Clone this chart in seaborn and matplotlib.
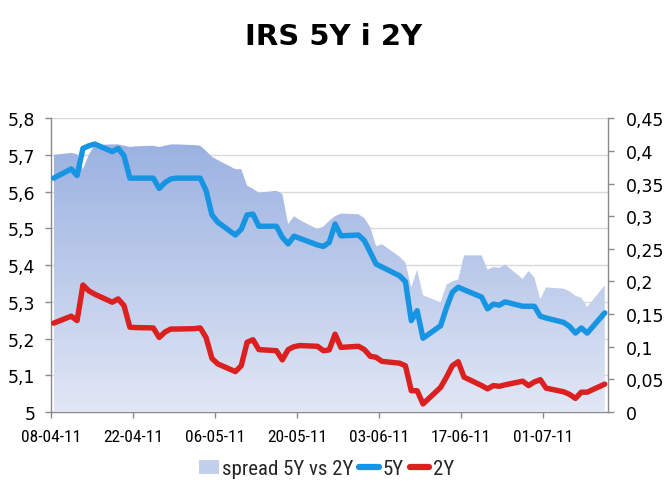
import numpy as np
import pandas as pd
import matplotlib
matplotlib.use("Agg")
import matplotlib.pyplot as plt
import matplotlib.dates as mdates
from matplotlib import font_manager
from matplotlib.colors import LinearSegmentedColormap
from matplotlib.patches import Patch
from matplotlib.lines import Line2D
from matplotlib.ticker import FuncFormatter
import seaborn as sns

# ---------------- data ----------------
title = "IRS 5Y i 2Y"
dates = [
    "2011-04-08", "2011-04-11", "2011-04-12", "2011-04-13", "2011-04-14", "2011-04-15",
    "2011-04-18", "2011-04-19", "2011-04-20", "2011-04-21", "2011-04-22",
    "2011-04-25", "2011-04-26", "2011-04-27", "2011-04-28", "2011-04-29",
    "2011-05-02", "2011-05-03", "2011-05-04", "2011-05-05", "2011-05-06",
    "2011-05-09", "2011-05-10", "2011-05-11", "2011-05-12", "2011-05-13",
    "2011-05-16", "2011-05-17", "2011-05-18", "2011-05-19", "2011-05-20",
    "2011-05-23", "2011-05-24", "2011-05-25", "2011-05-26", "2011-05-27",
    "2011-05-30", "2011-05-31", "2011-06-01", "2011-06-02", "2011-06-03",
    "2011-06-06", "2011-06-07", "2011-06-08", "2011-06-09", "2011-06-10",
    "2011-06-13", "2011-06-14", "2011-06-15", "2011-06-16", "2011-06-17",
    "2011-06-20", "2011-06-21", "2011-06-22", "2011-06-23", "2011-06-24",
    "2011-06-27", "2011-06-28", "2011-06-29", "2011-06-30", "2011-07-01",
    "2011-07-04", "2011-07-05", "2011-07-06", "2011-07-07", "2011-07-08",
    "2011-07-11",
]
irs_5y = [
    5.637, 5.662, 5.644, 5.718, 5.725, 5.730,
    5.709, 5.718, 5.698, 5.637, 5.637,
    5.637, 5.609, 5.625, 5.635, 5.637,
    5.637, 5.637, 5.603, 5.537, 5.517,
    5.482, 5.498, 5.537, 5.539, 5.506,
    5.506, 5.476, 5.458, 5.479, 5.473,
    5.455, 5.451, 5.462, 5.512, 5.480,
    5.482, 5.467, 5.435, 5.403, 5.395,
    5.371, 5.355, 5.249, 5.276, 5.201,
    5.235, 5.284, 5.326, 5.340, 5.333,
    5.313, 5.281, 5.294, 5.291, 5.300,
    5.288, 5.288, 5.288, 5.261, 5.256,
    5.244, 5.233, 5.215, 5.229, 5.215,
    5.270,
]
irs_2y = [
    5.242, 5.261, 5.249, 5.346, 5.330, 5.321,
    5.299, 5.308, 5.290, 5.231, 5.230,
    5.229, 5.203, 5.218, 5.226, 5.226,
    5.227, 5.229, 5.203, 5.146, 5.131,
    5.110, 5.126, 5.190, 5.197, 5.170,
    5.167, 5.142, 5.170, 5.178, 5.181,
    5.179, 5.167, 5.169, 5.212, 5.176,
    5.179, 5.170, 5.152, 5.149, 5.138,
    5.133, 5.126, 5.058, 5.058, 5.022,
    5.067, 5.095, 5.126, 5.137, 5.095,
    5.072, 5.063, 5.072, 5.070, 5.074,
    5.084, 5.072, 5.082, 5.088, 5.065,
    5.055, 5.048, 5.037, 5.054, 5.054,
    5.076,
]
spread = [
    0.394, 0.397, 0.395, 0.372, 0.394, 0.409,
    0.410, 0.410, 0.408, 0.406, 0.407,
    0.408, 0.406, 0.408, 0.410, 0.410,
    0.409, 0.408, 0.400, 0.391, 0.386,
    0.372, 0.372, 0.347, 0.342, 0.336,
    0.339, 0.334, 0.288, 0.300, 0.294,
    0.280, 0.284, 0.293, 0.300, 0.304,
    0.303, 0.297, 0.283, 0.254, 0.257,
    0.238, 0.229, 0.191, 0.218, 0.179,
    0.168, 0.195, 0.200, 0.203, 0.240,
    0.240, 0.218, 0.222, 0.221, 0.226,
    0.204, 0.216, 0.206, 0.173, 0.191,
    0.189, 0.185, 0.178, 0.175, 0.161,
    0.194,
]
x_ticks = ["2011-04-08", "2011-04-22", "2011-05-06", "2011-05-20",
           "2011-06-03", "2011-06-17", "2011-07-01"]
x_range = ["2011-04-08", "2011-07-12"]
left_ticks = [5.0, 5.1, 5.2, 5.3, 5.4, 5.5, 5.6, 5.7, 5.8]
right_ticks = [0, 0.05, 0.1, 0.15, 0.2, 0.25, 0.3, 0.35, 0.4, 0.45]
series_names = ["spread 5Y vs 2Y", "5Y", "2Y"]

# ---------------- style ----------------
sns.set_theme(style="white")
plt.rcParams["font.family"] = ["DejaVu Sans"]


def pick_font(cands):
    for c in cands:
        try:
            font_manager.findfont(font_manager.FontProperties(family=c),
                                  fallback_to_default=False)
            return c
        except Exception:
            continue
    return "DejaVu Sans"


narrow = pick_font(["DejaVu Sans Condensed", "Liberation Sans Narrow", "Roboto Condensed", "DejaVu Sans"])

c5 = "#1795e3"
c2 = "#dc1f1f"
spine_c = "#8a8a8a"

df = pd.DataFrame({
    "date": pd.to_datetime(dates) + pd.Timedelta(hours=12),
    "5Y": irs_5y,
    "2Y": irs_2y,
    "spread": spread,
})

fig = plt.figure(figsize=(6.7, 5.02), dpi=100)
rect = [50.7 / 670, (502 - 413) / 502, (607.7 - 50.7) / 670, (413 - 119.3) / 502]
ax = fig.add_axes(rect)
ax2 = ax.twinx()
ax3 = ax.twinx()
ax.set_zorder(1)
ax2.set_zorder(2)
ax3.set_zorder(3)
ax2.patch.set_visible(False)
ax3.patch.set_visible(False)

# ---- area (right axis) with vertical gradient ----
xnum = mdates.date2num(df["date"])
poly = ax2.fill_between(df["date"], 0, df["spread"], facecolor="none", edgecolor="none")
path = poly.get_paths()[0]
cmap = LinearSegmentedColormap.from_list("g", ["#e1e7f5", "#9ab1e1"])
grad = np.linspace(0, 1, 256).reshape(-1, 1)
im = ax2.imshow(grad, extent=[xnum[0], xnum[-1], 0, 0.415], aspect="auto",
                cmap=cmap, origin="lower", zorder=1, interpolation="bicubic")
im.set_clip_path(path, ax2.transData)

# ---- lines (left scale) ----
sns.lineplot(data=df, x="date", y="5Y", ax=ax3, color=c5, lw=3.9,
             solid_joinstyle="round", solid_capstyle="round")
sns.lineplot(data=df, x="date", y="2Y", ax=ax3, color=c2, lw=3.9,
             solid_joinstyle="round", solid_capstyle="round")

xl = pd.to_datetime(x_range)
for a in (ax, ax2, ax3):
    a.set_xlim(xl[0], xl[1])
ax.set_ylim(5.0, 5.8)
ax3.set_ylim(5.0, 5.8)
ax2.set_ylim(0, 0.45)
ax3.axis("off")

# ---- axes formatting ----
ax.set_yticks(left_ticks)
ax.yaxis.set_major_formatter(FuncFormatter(lambda v, p: f"{v:g}".replace(".", ",")))
ax2.set_yticks(right_ticks)
ax2.yaxis.set_major_formatter(FuncFormatter(lambda v, p: f"{v:g}".replace(".", ",")))
ax.set_xticks(pd.to_datetime(x_ticks))
ax.xaxis.set_major_formatter(mdates.DateFormatter("%d-%m-%y"))
ax.yaxis.grid(True, color="#d9d9d9", lw=1)
ax.xaxis.grid(False)

for s in ["top", "right"]:
    ax.spines[s].set_visible(False)
for s in ["left", "bottom"]:
    ax.spines[s].set_color(spine_c)
    ax.spines[s].set_linewidth(1)
for s in ["top", "left", "bottom"]:
    ax2.spines[s].set_visible(False)
ax2.spines["right"].set_color(spine_c)
ax2.spines["right"].set_linewidth(1)

ax.tick_params(axis="y", left=True, direction="out", length=4, width=1,
               color=spine_c, pad=7, labelsize=12.5, labelcolor="black")
ax.tick_params(axis="x", bottom=True, direction="out", length=4, width=1,
               color=spine_c, pad=8, labelsize=12.5, labelcolor="black")
ax2.tick_params(axis="y", right=True, direction="out", length=4, width=1,
                color=spine_c, pad=9, labelsize=12.5, labelcolor="black")
for lab in ax.get_xticklabels():
    lab.set_fontfamily(narrow)
ax.set_xlabel("")
ax.set_ylabel("")
ax2.set_ylabel("")

fig.text(0.4985, 0.926, title, ha="center", va="center",
         fontsize=21, fontweight="bold", color="black")

handles = [
    Patch(facecolor="#c3d0ec", edgecolor="none"),
    Line2D([0], [0], color=c5, lw=4.5, solid_capstyle="round"),
    Line2D([0], [0], color=c2, lw=4.5, solid_capstyle="round"),
]
fig.legend(handles, series_names, loc="center", bbox_to_anchor=(0.487, 0.064),
           ncol=3, frameon=False, handlelength=0.95, handleheight=0.7,
           handletextpad=0.15, columnspacing=0.3,
           prop=font_manager.FontProperties(family=narrow, size=15))

fig.savefig("out.png", dpi=100)
